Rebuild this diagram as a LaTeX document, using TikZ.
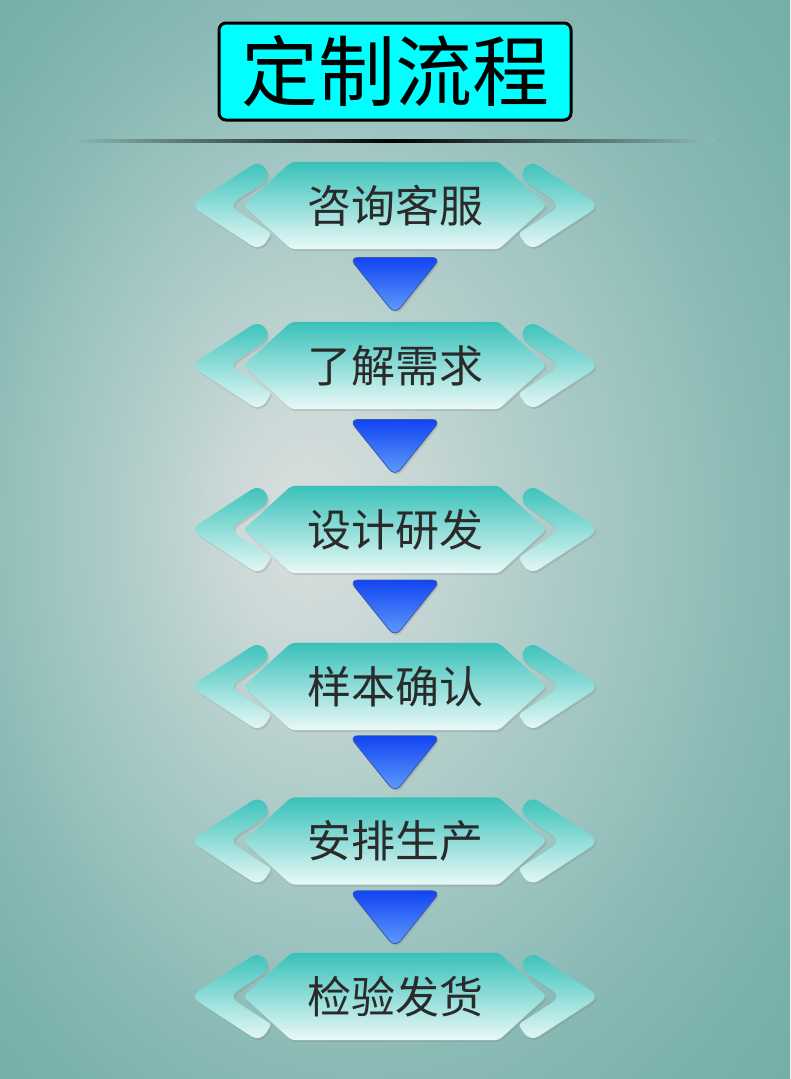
\documentclass[tikz,border=0pt]{standalone}
\usepackage{fontspec}
\newfontfamily\cjk{Noto Sans CJK SC}
\usetikzlibrary{calc,shadows}

\definecolor{bgin}{HTML}{DADFDE}
\definecolor{bgb}{HTML}{C9D8D6}
\definecolor{bgc}{HTML}{B3CECB}
\definecolor{bgd}{HTML}{9DC4C1}
\definecolor{bge}{HTML}{8ABAB5}
\definecolor{bgf}{HTML}{7AB1AB}
\definecolor{bgout}{HTML}{70A9A3}
\definecolor{titlecyan}{HTML}{00FFFF}
\definecolor{hextop}{HTML}{38C1B9}
\definecolor{hexbot}{HTML}{EAF9F8}
\definecolor{arrtop}{HTML}{1244F2}
\definecolor{arrbot}{HTML}{62A0FB}
\definecolor{arredge}{HTML}{3A5AA8}
\definecolor{stepink}{HTML}{2A2A2A}
\definecolor{lineend}{HTML}{8DBBB6}

\pgfdeclareradialshading{bgglow}{\pgfpoint{-6bp}{1bp}}{color(0bp)=(bgin); color(6bp)=(bgb); color(12bp)=(bgc); color(19bp)=(bgd); color(25bp)=(bge); color(32bp)=(bgf); color(40bp)=(bgout)}

\pgfdeclarelayer{back}
\pgfdeclarelayer{bg}
\pgfsetlayers{back,bg,main}

\tikzset{
  stepbox/.style={minimum width=303pt, minimum height=87pt, inner sep=0pt,
    text=stepink, font=\cjk\fontsize{44}{50}\selectfont},
  titlebox/.style={draw=black, line width=3pt, fill=titlecyan, rounded corners=7pt,
    minimum width=352pt, minimum height=97pt, inner sep=0pt,
    font=\cjk\fontsize{77}{80}\selectfont},
  hexshade/.style={top color=hextop, bottom color=hexbot, rounded corners=4pt,
    drop shadow={shadow xshift=1.5pt, shadow yshift=-2pt, opacity=0.25}},
  chevshade/.style={top color=hextop, bottom color=hexbot,
    drop shadow={shadow xshift=1.5pt, shadow yshift=-2pt, opacity=0.25}},
  arrowshade/.style={top color=arrtop, bottom color=arrbot, draw=arredge,
    line width=0.8pt, rounded corners=9pt,
    drop shadow={shadow xshift=1.5pt, shadow yshift=-2pt, opacity=0.25}}
}

\newcommand\chevron{%
  \shade[chevshade] (-170,-22.7) [rounded corners=10.5pt] -- (-134.9,-45.5)
    -- (-123.5,-27.9) -- (-166.5,0) [rounded corners=3pt] -- (-123.5,27.9)
    [rounded corners=10.5pt] -- (-134.9,45.5) -- (-205,0)
    [rounded corners=5pt] -- cycle;}

\newcommand\stepdeco[1]{%
  \begin{pgfonlayer}{bg}
    \shade[hexshade] ($(#1.north west)+(48,0)$) -- ($(#1.north east)+(-48,0)$)
      -- (#1.east) -- ($(#1.south east)+(-48,0)$) -- ($(#1.south west)+(48,0)$)
      -- (#1.west) -- cycle;
    \begin{scope}[shift={(#1)}] \chevron \end{scope}
    \begin{scope}[shift={(#1)}, xscale=-1] \chevron \end{scope}
  \end{pgfonlayer}}

\newcommand\flowarrow[2]{%
  \coordinate (#1m) at ($(#1.south)!0.5!(#2.north)$);
  \begin{pgfonlayer}{bg}
    \shade[arrowshade] ($(#1m)+(-46,-28)$) -- ($(#1m)+(46,-28)$)
      -- ($(#1m)+(0,29)$) -- cycle;
  \end{pgfonlayer}}

\begin{document}
\begin{tikzpicture}[x=1pt,y=-1pt]

  \useasboundingbox (0,0) rectangle (790,1079);
  \begin{pgfonlayer}{back}
    \shade[shading=bgglow] (0,0) rectangle (790,1079);
    \shade[left color=lineend, right color=lineend, middle color=black]
      (70,139.8) rectangle (715,142.3);
  \end{pgfonlayer}

  \node[titlebox] (title) at (395,71.5) {定制流程};

  \node[stepbox] (s1) at (395,205.5) {咨询客服};
  \node[stepbox] (s2) at (395,365.5) {了解需求};
  \node[stepbox] (s3) at (395,529.5) {设计研发};
  \node[stepbox] (s4) at (395,686.5) {样本确认};
  \node[stepbox] (s5) at (395,841) {安排生产};
  \node[stepbox] (s6) at (395,996.5) {检验发货};

  \stepdeco{s1} \stepdeco{s2} \stepdeco{s3}
  \stepdeco{s4} \stepdeco{s5} \stepdeco{s6}

  \flowarrow{s1}{s2}
  \flowarrow{s2}{s3}
  \flowarrow{s3}{s4}
  \flowarrow{s4}{s5}
  \flowarrow{s5}{s6}

\end{tikzpicture}
\end{document}
